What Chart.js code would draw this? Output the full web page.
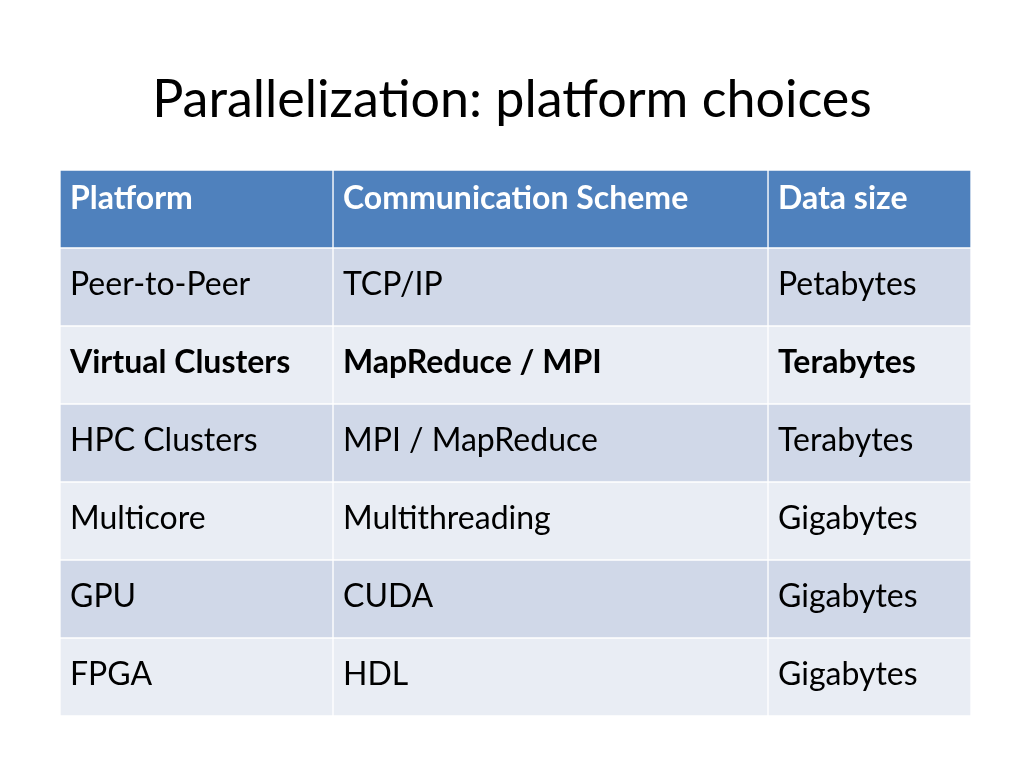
<!DOCTYPE html>
<html>
<head>
<meta charset="utf-8">
<script src="https://cdn.jsdelivr.net/npm/chart.js@4"></script>
<style>
  html, body { margin: 0; padding: 0; background: #fff; }
  #wrap { position: relative; width: 1024px; height: 768px; }
  h1 { position: absolute; top: 66px; left: 0; width: 1024px; margin: 0; text-align: center;
       font: 400 52px Lato, "Open Sans", sans-serif; color: #000; }
  canvas { position: absolute; left: 0; top: 0; }
</style>
</head>
<body>
<div id="wrap">
  <h1>Parallelization: platform choices</h1>
  <canvas id="table" width="1024" height="768"></canvas>
</div>
<script>
// Table data
const headers = ['Platform', 'Communication Scheme', 'Data size'];
const platforms = ['Peer-to-Peer', 'Virtual Clusters', 'HPC Clusters', 'Multicore', 'GPU', 'FPGA'];
const schemes = ['TCP/IP', 'MapReduce / MPI', 'MPI / MapReduce', 'Multithreading', 'CUDA', 'HDL'];
const dataSizes = ['Petabytes', 'Terabytes', 'Terabytes', 'Gigabytes', 'Gigabytes', 'Gigabytes'];
const columnWidths = [273, 435, 203];
const boldRows = [2]; // row index incl. header

const rowLabels = ['header'].concat(platforms);
const columns = [
    [headers[0]].concat(platforms),
    [headers[1]].concat(schemes),
    [headers[2]].concat(dataSizes)
];

function rowColor(i) {
    if (i === 0) return '#4F81BD';
    return i % 2 === 1 ? '#D0D8E8' : '#E9EDF4';
}

const cellText = {
    id: 'cellText',
    afterDatasetsDraw(chart) {
        const ctx = chart.ctx;
        ctx.save();
        ctx.textBaseline = 'middle';
        ctx.textAlign = 'left';
        chart.data.datasets.forEach((ds, di) => {
            const meta = chart.getDatasetMeta(di);
            meta.data.forEach((bar, ri) => {
                const { base, y } = bar.getProps(['base', 'y'], true);
                const bold = ri === 0 || boldRows.includes(ri);
                ctx.font = (bold ? 'bold ' : '') + '32px Lato, "Open Sans", sans-serif';
                ctx.fillStyle = ri === 0 ? '#fff' : '#000';
                ctx.fillText(columns[di][ri], base + 10, y - 8 + (ri === 0 ? 0 : 8) - 2);
            });
        });
        ctx.restore();
    }
};

new Chart(document.getElementById('table'), {
    type: 'bar',
    data: {
        labels: rowLabels,
        datasets: columnWidths.map((w, ci) => ({
            label: headers[ci],
            data: rowLabels.map(() => w),
            backgroundColor: rowLabels.map((_, ri) => rowColor(ri)),
            borderColor: '#fff',
            borderWidth: 1,
            borderSkipped: false,
            categoryPercentage: 1,
            barPercentage: 1
        }))
    },
    options: {
        indexAxis: 'y',
        responsive: false,
        animation: false,
        layout: { padding: { left: 60, right: 53, top: 170, bottom: 52 } },
        scales: {
            x: { stacked: true, min: 0, max: 911, display: false },
            y: { stacked: true, display: false }
        },
        plugins: { legend: { display: false }, tooltip: { enabled: false } }
    },
    plugins: [cellText]
});
</script>
</body>
</html>
